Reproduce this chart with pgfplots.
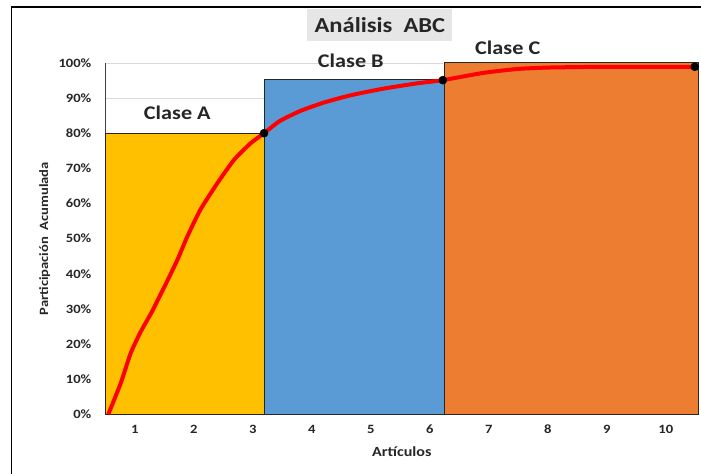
\documentclass[border=0pt]{standalone}
\usepackage{fontspec}
\setmainfont{Carlito}[FakeStretch=1.15]
\usepackage{pgfplots}
\pgfplotsset{compat=1.18}
\definecolor{claseA}{HTML}{FFC000}
\definecolor{claseB}{HTML}{5B9BD5}
\definecolor{claseC}{HTML}{ED7D31}
\definecolor{titulogris}{HTML}{E7E6E6}
\definecolor{rejilla}{HTML}{D9D9D9}
\definecolor{texto}{HTML}{262626}
\begin{document}
\begin{tikzpicture}[x=1pt,y=1pt]
\useasboundingbox (0,0) rectangle (525.75,355.5);
\draw[line width=0.9pt] (8.8,0) -- (8.8,350.25) -- (525.75,350.25);
\node[fill=titulogris, inner sep=0pt, minimum width=108.75pt, minimum height=23.5pt,
      font=\bfseries\fontsize{16}{19}\selectfont, text=texto] at (284.9,336.75) {Análisis\ \ ABC};
\begin{axis}[
    at={(79pt,44.8pt)}, anchor=south west,
    scale only axis,
    width=444.75pt, height=263.5pt,
    xmin=0.5, xmax=10.55,
    ymin=0, ymax=100,
    axis lines*=left,
    axis line style={black!75, line width=0.8pt},
    xtick={1,...,10},
    ytick={0,10,...,100},
    yticklabels={0\%,10\%,20\%,30\%,40\%,50\%,60\%,70\%,80\%,90\%,100\%},
    /pgf/number format/assume math mode=true,
    major tick length=0pt,
    ymajorgrids,
    grid style={rejilla, line width=0.6pt},
    tick label style={font=\bfseries\fontsize{9.5}{11}\selectfont, text=texto},
    yticklabel style={xshift=-7pt},
    xticklabel style={yshift=-4.5pt},
    xlabel={Artículos},
    xlabel style={at={(axis description cs:0.5,0)}, anchor=center, yshift=-28pt,
                  font=\bfseries\fontsize{10.5}{12}\selectfont, text=texto},
    ylabel={Participación\ \ Acumulada},
    ylabel style={at={(axis description cs:0,0.5)}, anchor=center, yshift=45.5pt,
                  font=\bfseries\fontsize{9.5}{11}\selectfont, text=texto},
    clip=false,
]
% barras de clase
\addplot[fill=claseA, draw=black!85, line width=0.7pt] coordinates {(0.5,80) (3.19,80)} \closedcycle;
\addplot[fill=claseB, draw=black!85, line width=0.7pt] coordinates {(3.19,95.3) (6.25,95.3)} \closedcycle;
\addplot[fill=claseC, draw=black!85, line width=0.7pt] coordinates {(6.25,100) (10.55,100)} \closedcycle;
% curva acumulada
\addplot[red, line width=3pt, smooth, tension=0.35] coordinates {
    (0.55,0) (0.76,8.8) (0.93,17.4) (1.10,23.5) (1.29,29.2) (1.49,35.9)
    (1.72,43.9) (1.89,50.6) (2.11,58.2) (2.40,65.8) (2.68,72.4) (2.96,77.1)
    (3.19,80) (3.45,83.4) (3.8,86.3) (4.2,88.7) (4.66,90.8) (5.22,92.7) (5.79,94.2)
    (6.22,95.1) (6.92,97.2) (7.5,98.3) (8.05,98.7) (9.0,98.9) (10.49,98.9)
};
\addplot[only marks, mark=*, mark size=3pt, black] coordinates {
    (3.19,80) (6.22,95.1) (10.49,98.9)
};
\node[font=\bfseries\fontsize{14.5}{17}\selectfont, text=texto] at (axis cs:1.72,85.7) {Clase A};
\node[font=\bfseries\fontsize{14.5}{17}\selectfont, text=texto] at (axis cs:4.66,100.5) {Clase B};
\node[font=\bfseries\fontsize{14.5}{17}\selectfont, text=texto] at (axis cs:7.32,104.4) {Clase C};
\end{axis}
\end{tikzpicture}
\end{document}
